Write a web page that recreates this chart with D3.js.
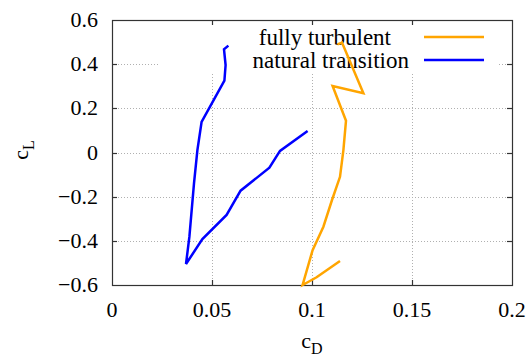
<!DOCTYPE html>
<html>
<head>
<meta charset="utf-8">
<script src="https://cdn.jsdelivr.net/npm/d3@7"></script>
<style>
  body { margin: 0; background: #fff; }
  text { font-family: "Liberation Serif", "Times New Roman", serif; fill: #000; }
</style>
</head>
<body>
<svg width="529" height="359"></svg>
<script>
// polar data: drag coefficient vs lift coefficient
var turbulentCd = [0.1127, 0.1150, 0.1257, 0.1103, 0.1170, 0.1157, 0.1140, 0.1100, 0.1057, 0.1003, 0.0953, 0.1023, 0.1140];
var turbulentCl = [0.490, 0.498, 0.268, 0.301, 0.144, 0.011, -0.110, -0.215, -0.336, -0.442, -0.600, -0.565, -0.491];

var transitionCd = [0.0582, 0.0560, 0.0568, 0.0562, 0.0448, 0.0427, 0.0410, 0.0387, 0.0370, 0.0452, 0.0573, 0.0643, 0.0787, 0.0840, 0.0978];
var transitionCl = [0.484, 0.467, 0.396, 0.325, 0.139, 0.011, -0.140, -0.381, -0.505, -0.392, -0.283, -0.173, -0.069, 0.007, 0.097];

var xTicks = [0, 0.05, 0.1, 0.15, 0.2];
var yTicks = [-0.6, -0.4, -0.2, 0, 0.2, 0.4, 0.6];

var seriesNames = ["fully turbulent", "natural transition"];
var seriesColors = ["#ffa500", "#0000ff"];

var svg = d3.select("svg");
var mLeft = 112, mRight = 512, mTop = 20, mBottom = 285;

var x = d3.scaleLinear().domain([0, 0.2]).range([mLeft, mRight]);
var y = d3.scaleLinear().domain([-0.6, 0.6]).range([mBottom, mTop]);

function fmt(v) {
  return v < 0 ? "\u2212" + Math.abs(v) : String(v);
}

// grid
var grid = svg.append("g").attr("class", "grid")
  .attr("stroke", "#b0b0b0").attr("stroke-width", 1).attr("stroke-dasharray", "1,2");
grid.selectAll(".gx").data(xTicks.slice(1, -1)).enter().append("line")
  .attr("x1", function(d) { return Math.round(x(d)) + 0.5; })
  .attr("x2", function(d) { return Math.round(x(d)) + 0.5; })
  .attr("y1", mTop).attr("y2", mBottom);
grid.selectAll(".gy").data(yTicks.slice(1, -1)).enter().append("line")
  .attr("y1", function(d) { return Math.round(y(d)) + 0.5; })
  .attr("y2", function(d) { return Math.round(y(d)) + 0.5; })
  .attr("x1", mLeft).attr("x2", mRight);

// legend box (opaque)
svg.append("rect")
  .attr("x", 158).attr("y", mTop + 1).attr("width", 339).attr("height", 51)
  .attr("fill", "#fff");

var legendTextX = [391, 409];
var legend = svg.append("g");
seriesNames.forEach(function(name, i) {
  legend.append("text")
    .attr("x", legendTextX[i]).attr("y", 45 + i * 23)
    .attr("text-anchor", "end")
    .style("font-size", "23px")
    .text(name);
  legend.append("line")
    .attr("x1", 424).attr("x2", 484)
    .attr("y1", 37 + i * 23).attr("y2", 37 + i * 23)
    .attr("stroke", seriesColors[i]).attr("stroke-width", 2.5);
});

// frame and ticks
svg.append("rect")
  .attr("x", mLeft + 0.5).attr("y", mTop + 0.5)
  .attr("width", mRight - mLeft).attr("height", mBottom - mTop)
  .attr("fill", "none").attr("stroke", "#333").attr("stroke-width", 1.2);

var ticks = svg.append("g").attr("stroke", "#333").attr("stroke-width", 1.2);
xTicks.slice(1, -1).forEach(function(d) {
  var px = Math.round(x(d)) + 0.5;
  ticks.append("line").attr("x1", px).attr("x2", px).attr("y1", mBottom).attr("y2", mBottom - 5);
  ticks.append("line").attr("x1", px).attr("x2", px).attr("y1", mTop).attr("y2", mTop + 5);
});
yTicks.slice(1, -1).forEach(function(d) {
  var py = Math.round(y(d)) + 0.5;
  ticks.append("line").attr("y1", py).attr("y2", py).attr("x1", mLeft).attr("x2", mLeft + 5);
  ticks.append("line").attr("y1", py).attr("y2", py).attr("x1", mRight).attr("x2", mRight - 5);
});

// tick labels
svg.append("g").selectAll("text").data(xTicks).enter().append("text")
  .attr("x", function(d) { return x(d); })
  .attr("y", 317)
  .attr("text-anchor", "middle")
  .style("font-size", "22px")
  .text(fmt);

svg.append("g").selectAll("text").data(yTicks).enter().append("text")
  .attr("x", 98)
  .attr("y", function(d) { return y(d) + 7; })
  .attr("text-anchor", "end")
  .style("font-size", "22px")
  .text(fmt);

// axis titles
var xl = svg.append("text").attr("x", 312).attr("y", 348).attr("text-anchor", "middle").style("font-size", "22px");
xl.append("tspan").text("c");
xl.append("tspan").attr("dy", 6).style("font-size", "16px").text("D");

var yl = svg.append("text")
  .attr("transform", "translate(28,150) rotate(-90)")
  .attr("text-anchor", "middle").style("font-size", "22px");
yl.append("tspan").text("c");
yl.append("tspan").attr("dy", 6).style("font-size", "16px").text("L");

// data lines
var line = d3.line()
  .x(function(d) { return x(d[0]); })
  .y(function(d) { return y(d[1]); });

var series = [
  d3.zip(turbulentCd, turbulentCl),
  d3.zip(transitionCd, transitionCl)
];

svg.append("g").selectAll("path").data(series).enter().append("path")
  .attr("d", line)
  .attr("fill", "none")
  .attr("stroke", function(d, i) { return seriesColors[i]; })
  .attr("stroke-width", 2.5)
  .attr("stroke-linejoin", "miter");
</script>
</body>
</html>
